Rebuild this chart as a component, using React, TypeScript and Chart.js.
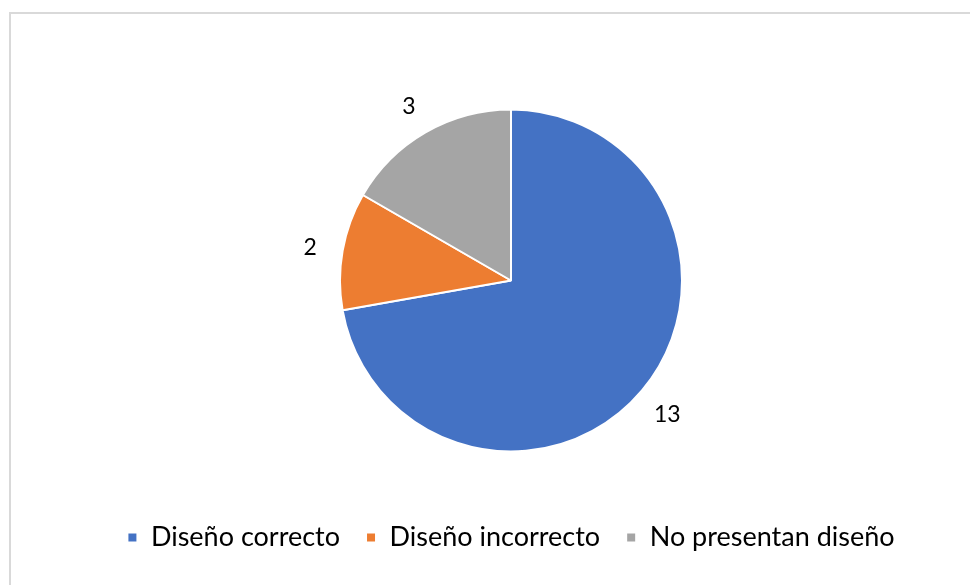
import React, { useEffect, useRef } from "react";
import { Chart, registerables } from "chart.js";

Chart.register(...registerables);

const categories = ["Diseño correcto", "Diseño incorrecto", "No presentan diseño"];
const values = [13, 2, 3];
const colors = ["#4472C4", "#ED7D31", "#A5A5A5"];

const FONT = "Lato, 'Open Sans', sans-serif";

const outsideLabels = {
  id: "outsideLabels",
  afterDatasetsDraw(chart: any) {
    const ctx = chart.ctx;
    const meta = chart.getDatasetMeta(0);
    ctx.save();
    ctx.font = `23px ${FONT}`;
    ctx.fillStyle = "#000000";
    ctx.textAlign = "center";
    ctx.textBaseline = "middle";
    meta.data.forEach((arc: any, i: number) => {
      const p = arc.getProps(["x", "y", "startAngle", "endAngle", "outerRadius"], true);
      const mid = (p.startAngle + p.endAngle) / 2;
      const d = p.outerRadius + 33;
      ctx.fillText(String(values[i]), p.x + Math.cos(mid) * d, p.y + Math.sin(mid) * d + 3);
    });
    ctx.restore();
  },
};

export default function App() {
  const ref = useRef<HTMLCanvasElement>(null);
  useEffect(() => {
    if (!ref.current) return;
    const chart = new Chart(ref.current, {
      type: "pie",
      data: {
        labels: categories,
        datasets: [
          {
            data: values,
            backgroundColor: colors,
            borderColor: "#ffffff",
            borderWidth: 2,
          },
        ],
      },
      options: {
        animation: false,
        responsive: false,
        radius: 171,
        layout: { padding: { top: 63, left: 52, right: 0, bottom: 24 } },
        plugins: {
          tooltip: { enabled: false },
          legend: {
            position: "bottom",
            labels: {
              boxWidth: 10,
              boxHeight: 10,
              padding: 26,
              color: "#000000",
              font: { size: 27, family: FONT },
            },
          },
        },
      } as any,
      plugins: [outsideLabels],
    });
    return () => chart.destroy();
  }, []);
  return (
    <div
      style={{
        position: "fixed",
        left: 0,
        top: 0,
        width: 970,
        height: 585,
        overflow: "hidden",
        background: "#ffffff",
      }}
    >
      <div
        style={{
          position: "absolute",
          left: 9,
          top: 12,
          width: 1000,
          height: 600,
          borderTop: "2px solid #d9d9d9",
          borderLeft: "2px solid #d9d9d9",
        }}
      />
      <canvas
        ref={ref}
        width={970}
        height={585}
        style={{ position: "absolute", left: 0, top: 0, width: 970, height: 585 }}
      />
    </div>
  );
}
